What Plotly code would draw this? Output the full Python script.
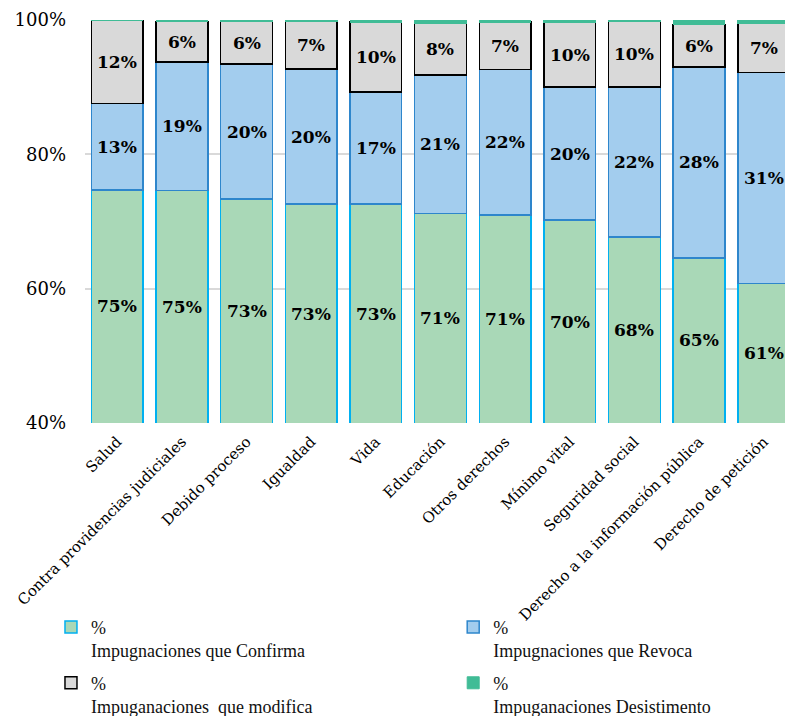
import plotly.graph_objects as go

categories = ["Salud", "Contra providencias judiciales", "Debido proceso", "Igualdad", "Vida",
              "Educación", "Otros derechos", "Mínimo vital", "Seguridad social",
              "Derecho a la información pública", "Derecho de petición"]
confirma = [74.7, 74.6, 73.35, 72.6, 72.6, 71.2, 71.0, 70.2, 67.7, 64.6, 60.8]
revoca = [12.9, 19.15, 20.1, 20.1, 16.7, 20.6, 21.6, 19.8, 22.3, 28.4, 31.4]
modifica = [12.4, 6.0, 6.3, 7.05, 10.4, 7.7, 7.1, 9.7, 9.8, 6.35, 7.3]
desiste = [0.0, 0.25, 0.25, 0.25, 0.3, 0.5, 0.3, 0.3, 0.2, 0.65, 0.5]
y_ticks = [40, 60, 80, 100]
y_tick_text = ["40%", "60%", "80%", "100%"]

SERIF = "DejaVu Serif"
label_font = dict(family=SERIF, size=17, color="black", weight="bold")
Y_MIN, Y_MAX = 40, 100

fig = go.Figure()
fig.add_trace(go.Bar(x=categories, y=confirma, name="%<br>Impugnaciones que Confirma",
                     marker=dict(color="#A9D8B7", line=dict(color="#00B0F0", width=1.5)),
                     legend="legend", legendgroup="a"))
fig.add_trace(go.Bar(x=categories, y=revoca, name="%<br>Impugnaciones que Revoca",
                     marker=dict(color="#A3CDEE", line=dict(color="#2E86CC", width=1.5)),
                     legend="legend2", legendgroup="b"))
fig.add_trace(go.Bar(x=categories, y=modifica, name="%<br>Impuganaciones  que modifica",
                     marker=dict(color="#D9D9D9", line=dict(color="black", width=1.5)),
                     legend="legend", legendgroup="c"))
fig.add_trace(go.Bar(x=categories, y=desiste, name="%<br>Impuganaciones Desistimento",
                     marker=dict(color="#40BC96", line=dict(color="#40BC96", width=1)),
                     legend="legend2", legendgroup="d"))

# value labels centred in the visible part of each segment
for i, c in enumerate(categories):
    lo = Y_MIN
    hi = confirma[i]
    fig.add_annotation(x=c, y=(lo + hi) / 2, text=f"{confirma[i]:.0f}%", showarrow=False, font=label_font)
    lo, hi = confirma[i], confirma[i] + revoca[i]
    fig.add_annotation(x=c, y=(lo + hi) / 2, text=f"{revoca[i]:.0f}%", showarrow=False, font=label_font)
    lo, hi = hi, hi + modifica[i]
    fig.add_annotation(x=c, y=(lo + hi) / 2, text=f"{modifica[i]:.0f}%", showarrow=False, font=label_font)

legend_common = dict(font=dict(family="Liberation Serif", size=18, color="#111"),
                     valign="top", tracegroupgap=6, bgcolor="rgba(0,0,0,0)",
                     yanchor="top", xanchor="left", itemwidth=30, traceorder="grouped")

fig.update_layout(
    width=777, height=708,
    margin=dict(l=77, r=0, t=12, b=293, autoexpand=False),
    barmode="stack", bargap=0.2,
    plot_bgcolor="white", paper_bgcolor="white",
    font=dict(family=SERIF, color="black"),
    xaxis=dict(range=[-0.5, 10.33], tickangle=-45, tickfont=dict(family=SERIF, size=15),
               showline=False, ticks="", showgrid=False, automargin=False,
               ticklabelstandoff=6),
    yaxis=dict(range=[Y_MIN, Y_MAX], tickvals=y_ticks, ticktext=y_tick_text,
               tickfont=dict(family=SERIF, size=18), showgrid=True,
               gridcolor="#D9D9D9", gridwidth=1.5, zeroline=False, ticks="", ticklen=0,
               automargin=False, ticklabelstandoff=18),
    legend=dict(x=-0.0486, y=-0.461, **legend_common),
    legend2=dict(x=0.526, y=-0.461, **legend_common),
)

fig.write_html("out.html")
